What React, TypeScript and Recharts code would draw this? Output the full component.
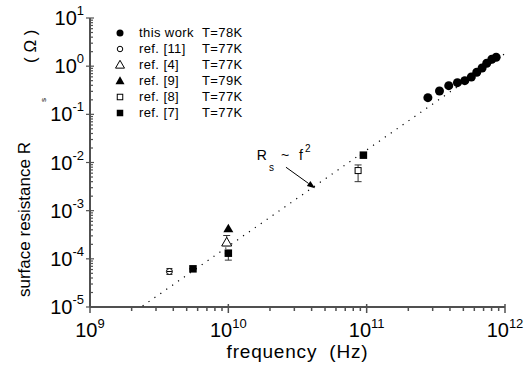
import React from 'react';
import {
  ScatterChart,
  Scatter,
  XAxis,
  YAxis,
  ErrorBar,
  ReferenceLine,
  ReferenceDot,
  Legend,
} from 'recharts';

if (typeof document !== 'undefined') {
  document.body.style.margin = '0';
}

const FONT = '"Liberation Sans", Arial, Helvetica, sans-serif';
const INK = '#000';
const AXIS = '#505050';

// ---- data (frequency in Hz, surface resistance in Ohm) ----
const thisWorkFreq = [2.77e11, 3.36e11, 3.92e11, 4.53e11, 5.12e11, 5.71e11, 6.25e11, 6.83e11, 7.38e11, 8.03e11, 8.63e11];
const thisWorkRs = [0.222, 0.305, 0.394, 0.455, 0.5, 0.597, 0.747, 0.918, 1.148, 1.39, 1.53];

const ref11Freq = [3.75e9];
const ref11Rs = [5.46e-5];
const ref11Err = [[0.73e-5, 0.84e-5]];

const ref4Freq = [9.73e9];
const ref4Rs = [2.18e-4];
const ref4Err = [[0.3e-4, 0.87e-4]];

const ref9Freq = [1.0e10];
const ref9Rs = [4.19e-4];

const ref8Freq = [8.67e10];
const ref8Rs = [6.8e-3];
const ref8Err = [[2.8e-3, 2.1e-3]];

const ref7Freq = [5.55e9, 1.0e10, 9.47e10];
const ref7Rs = [6.2e-5, 1.31e-4, 1.42e-2];
const ref7Err = [[0, 0], [0.37e-4, 0], [0, 0]];

// Rs ~ f^2 guide line
const fitFreq = [2.4e9, 1e12];
const fitRs = [1.05e-5, 1.82];

// annotation
const noteAt = { f: 1.605e10, r: 1.132e-2 };
const arrowFrom = { f: 2.61e10, r: 7.98e-3 };
const arrowTo = { f: 4.24e10, r: 2.93e-3 };

// axes
const xDecades = [1e9, 1e10, 1e11, 1e12];
const yDecades = [1e-5, 1e-4, 1e-3, 1e-2, 1e-1, 1, 10];
const minorMultipliers = [2, 3, 4, 5, 6, 7, 8, 9];

const legendNames = ['this work', 'ref. [11]', 'ref. [4]', 'ref. [9]', 'ref. [8]', 'ref. [7]'];
const legendTemps = ['T=78K', 'T=77K', 'T=77K', 'T=79K', 'T=77K', 'T=77K'];
const legendKinds = ['fc', 'oc', 'ot', 'ft', 'os', 'fs'];

const withMinors = (decades: number[]) => {
  const out: number[] = [];
  decades.forEach((d, i) => {
    out.push(d);
    if (i < decades.length - 1) minorMultipliers.forEach((m) => out.push(d * m));
  });
  return out;
};
const xTicks = withMinors(xDecades);
const yTicks = withMinors(yDecades);

const zip = (fs: number[], rs: number[], errs?: number[][]) =>
  fs.map((f, i) => (errs ? { f, r: rs[i], err: errs[i] } : { f, r: rs[i] }));

const thisWork = zip(thisWorkFreq, thisWorkRs);
const ref11 = zip(ref11Freq, ref11Rs, ref11Err);
const ref4 = zip(ref4Freq, ref4Rs, ref4Err);
const ref9 = zip(ref9Freq, ref9Rs);
const ref8 = zip(ref8Freq, ref8Rs, ref8Err);
const ref7 = zip(ref7Freq, ref7Rs, ref7Err);
const fit = zip(fitFreq, fitRs);

const Mark = ({ kind, cx, cy, s }: { kind: string; cx: number; cy: number; s: number }) => {
  const h = s * 0.87;
  const tri = `${cx},${cy - h * 0.6} ${cx - s / 2},${cy + h * 0.4} ${cx + s / 2},${cy + h * 0.4}`;
  switch (kind) {
    case 'fc':
      return <circle cx={cx} cy={cy} r={s / 2} fill={INK} />;
    case 'oc':
      return <circle cx={cx} cy={cy} r={s / 2 - 0.5} fill="#fff" stroke={INK} strokeWidth={1} />;
    case 'ocbar':
      return (
        <g>
          <circle cx={cx} cy={cy} r={s / 2 - 0.5} fill="#fff" stroke={INK} strokeWidth={1} />
          <line x1={cx - s / 2 + 1} x2={cx + s / 2 - 1} y1={cy} y2={cy} stroke={INK} strokeWidth={1} />
        </g>
      );
    case 'ft':
      return <polygon points={tri} fill={INK} />;
    case 'ot':
      return <polygon points={tri} fill="#fff" stroke={INK} strokeWidth={1} />;
    case 'fs':
      return <rect x={cx - s / 2} y={cy - s / 2} width={s} height={s} fill={INK} />;
    case 'os':
      return <rect x={cx - s / 2 + 0.5} y={cy - s / 2 + 0.5} width={s - 1} height={s - 1} fill="#fff" stroke={INK} strokeWidth={1} />;
    default:
      return null;
  }
};

const isMajor = (v: number) => Math.abs(Math.log10(v) - Math.round(Math.log10(v))) < 1e-6;

const XTick = (props: any) => {
  const { x, y, payload } = props;
  const v = payload.value;
  const major = isMajor(v);
  const e = Math.round(Math.log10(v));
  return (
    <g>
      <line x1={x} x2={x} y1={major ? y - 3 : y} y2={major ? y + 6 : y + 4} stroke={AXIS} strokeWidth={1.5} />
      {major && (
        <text x={x} y={y + 30} textAnchor="middle" fontFamily={FONT} fontSize={20} fill={INK}>
          10
          <tspan dy={-9} fontSize={13}>{e}</tspan>
        </text>
      )}
    </g>
  );
};

const YTick = (props: any) => {
  const { x, y, payload } = props;
  const v = payload.value;
  const major = isMajor(v);
  const e = Math.round(Math.log10(v));
  return (
    <g>
      <line x1={major ? x - 4 : x} x2={x + (major ? 4 : 3)} y1={y} y2={y} stroke={AXIS} strokeWidth={1.2} />
      {major && (
        <text x={x - 6} y={y + 7} textAnchor="end" fontFamily={FONT} fontSize={20} fill={INK}>
          10
          <tspan dy={-10} fontSize={13}>{e}</tspan>
        </text>
      )}
    </g>
  );
};

const XTitle = (props: any) => {
  const vb = props.viewBox || { x: 90, y: 307, width: 415, height: 63 };
  return (
    <text
      x={vb.x + vb.width / 2}
      y={vb.y + 51}
      textAnchor="middle"
      fontFamily={FONT}
      fontSize={19}
      letterSpacing={0.8}
      fill={INK}
      style={{ whiteSpace: 'pre' }}
    >
      {'frequency  (Hz)'}
    </text>
  );
};

const YTitle = (props: any) => {
  const vb = props.viewBox || { x: 0, y: 18, width: 90, height: 289 };
  const x = vb.x + 30;
  const y0 = vb.y + vb.height - 10;
  const rot = (xx: number, yy: number) => `rotate(-90, ${xx}, ${yy})`;
  const ys = y0 - 195;
  const yo = y0 - 234;
  return (
    <g fontFamily={FONT} fill={INK}>
      <text x={x} y={y0} transform={rot(x, y0)} fontSize={17}>
        surface resistance R
      </text>
      <text x={x + 16} y={ys} transform={rot(x + 16, ys)} fontSize={8}>
        s
      </text>
      <text x={x + 6} y={yo} transform={rot(x + 6, yo)} fontSize={17} style={{ whiteSpace: 'pre' }}>
        {'( \u03A9 )'}
      </text>
    </g>
  );
};

const LegendBox = () => (
  <div style={{ position: 'relative', width: 140, height: 96, fontFamily: FONT, fontSize: 13, letterSpacing: 0.4, color: INK }}>
    {legendNames.map((name, i) => (
      <div key={name} style={{ position: 'absolute', left: 0, top: i * 16, height: 16, width: 140, lineHeight: '16px', whiteSpace: 'pre' }}>
        <svg width={16} height={16} style={{ position: 'absolute', left: 0, top: 0 }}>
          <Mark kind={legendKinds[i]} cx={8} cy={8} s={legendKinds[i].endsWith('t') ? 9 : legendKinds[i] === 'fc' ? 7 : 6.5} />
        </svg>
        <span style={{ position: 'absolute', left: 27, top: 0 }}>{name}</span>
        <span style={{ position: 'absolute', left: 90, top: 0 }}>{legendTemps[i]}</span>
      </div>
    ))}
  </div>
);

const Arrow = (p: any) => {
  const { x1, y1, x2, y2 } = p;
  const ang = Math.atan2(y2 - y1, x2 - x1);
  const L = 8;
  const W = 3;
  const bx = x2 - L * Math.cos(ang);
  const by = y2 - L * Math.sin(ang);
  const px = -Math.sin(ang) * W;
  const py = Math.cos(ang) * W;
  return (
    <g>
      <line x1={x1} y1={y1} x2={bx} y2={by} stroke={INK} strokeWidth={1} />
      <polygon points={`${x2},${y2} ${bx + px},${by + py} ${bx - px},${by - py}`} fill={INK} />
    </g>
  );
};

const Note = (p: any) => (
  <text x={p.cx} y={p.cy} fontFamily={FONT} fontSize={14} fill={INK}>
    R
    <tspan dx={2} dy={11} fontSize={10}>s</tspan>
    <tspan dx={7} dy={-11}>~</tspan>
    <tspan dx={10}>f</tspan>
    <tspan dx={2} dy={-8} fontSize={10}>2</tspan>
  </text>
);

export default function App() {
  return (
    <ScatterChart width={528} height={370} margin={{ top: 18, right: 23, bottom: 0, left: 0 }}>
      <XAxis
        type="number"
        dataKey="f"
        scale="log"
        domain={[1e9, 1e12]}
        ticks={xTicks}
        interval={0}
        allowDataOverflow
        height={63}
        tickSize={0}
        tickMargin={0}
        tickLine={false}
        axisLine={{ stroke: AXIS, strokeWidth: 2 }}
        tick={<XTick />}
        label={{ content: (p: any) => <XTitle {...p} /> }}
      />
      <YAxis
        type="number"
        dataKey="r"
        scale="log"
        domain={[1e-5, 10]}
        ticks={yTicks}
        interval={0}
        allowDataOverflow
        width={90}
        tickSize={0}
        tickMargin={0}
        tickLine={false}
        axisLine={{ stroke: AXIS, strokeWidth: 2 }}
        tick={<YTick />}
        label={{ content: (p: any) => <YTitle {...p} /> }}
      />
      <Legend
        layout="horizontal"
        verticalAlign="middle"
        align="center"
        wrapperStyle={{ left: 112, top: 25, width: 140, height: 96 }}
        content={() => <LegendBox />}
      />
      <Scatter
        data={fit}
        isAnimationActive={false}
        line={{ stroke: INK, strokeWidth: 1.2, strokeDasharray: '1.2 6' }}
        shape={() => <g />}
        legendType="none"
      />
      <ReferenceLine
        segment={[{ x: arrowFrom.f, y: arrowFrom.r }, { x: arrowTo.f, y: arrowTo.r }]}
        shape={(p: any) => <Arrow {...p} />}
      />
      <ReferenceDot x={noteAt.f} y={noteAt.r} r={0} shape={(p: any) => <Note {...p} />} />
      <Scatter data={ref11} isAnimationActive={false} shape={(p: any) => <Mark kind="ocbar" cx={p.cx} cy={p.cy} s={7} />}>
        <ErrorBar dataKey="err" direction="y" width={3} stroke="#333" strokeWidth={1} />
      </Scatter>
      <Scatter data={ref4} isAnimationActive={false} shape={(p: any) => <Mark kind="ot" cx={p.cx} cy={p.cy} s={10} />}>
        <ErrorBar dataKey="err" direction="y" width={3.5} stroke="#333" strokeWidth={1} />
      </Scatter>
      <Scatter data={ref9} isAnimationActive={false} shape={(p: any) => <Mark kind="ft" cx={p.cx} cy={p.cy} s={10} />} />
      <Scatter data={ref8} isAnimationActive={false} shape={(p: any) => <Mark kind="os" cx={p.cx} cy={p.cy} s={7} />}>
        <ErrorBar dataKey="err" direction="y" width={3.5} stroke="#333" strokeWidth={1} />
      </Scatter>
      <Scatter data={ref7} isAnimationActive={false} shape={(p: any) => <Mark kind="fs" cx={p.cx} cy={p.cy} s={7.5} />}>
        <ErrorBar dataKey="err" direction="y" width={3.5} stroke="#333" strokeWidth={1} />
      </Scatter>
      <Scatter data={thisWork} isAnimationActive={false} shape={(p: any) => <Mark kind="fc" cx={p.cx} cy={p.cy} s={9} />} />
    </ScatterChart>
  );
}
